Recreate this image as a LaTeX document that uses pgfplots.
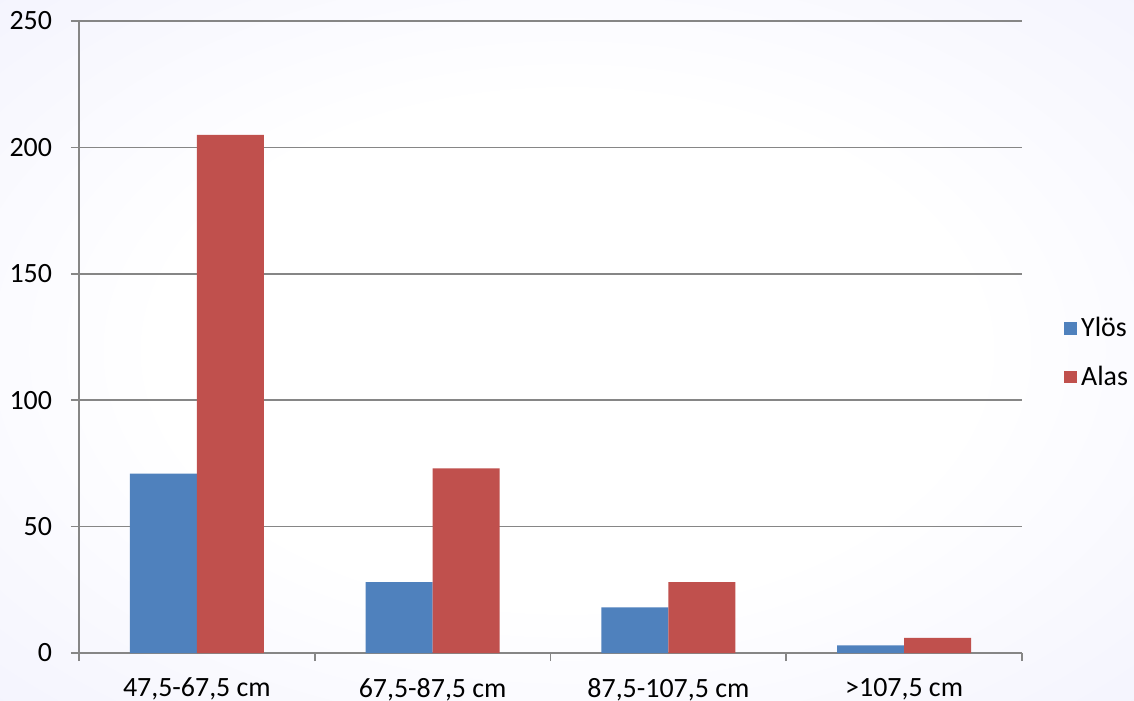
\documentclass[border=0pt]{standalone}
\usepackage{fontspec}
\setmainfont{Carlito}
\usepackage{pgfplots}
\pgfplotsset{compat=1.18}
\definecolor{serA}{RGB}{79,129,189}
\definecolor{serB}{RGB}{192,80,77}
\definecolor{gridc}{RGB}{134,134,134}
\definecolor{lavA}{RGB}{244,244,254}
\definecolor{lavB}{RGB}{226,226,252}
\pgfdeclareradialshading{bgshade}{\pgfpoint{0bp}{0bp}}{color(0bp)=(white); color(18bp)=(white); color(36bp)=(lavA); color(52bp)=(lavB); color(75bp)=(lavB)}
\begin{document}
\begin{tikzpicture}
\useasboundingbox (-39.5bp,-24bp) rectangle (527.5bp,326.5bp);
\shade[shading=bgshade] (-39.5bp,-24bp) rectangle (527.5bp,326.5bp);
\begin{axis}[
  scale only axis, width=471.5bp, height=316bp,
  ybar=0pt, bar width=33.5bp,
  xmin=-0.5, xmax=3.5, ymin=0, ymax=250,
  xtick={-0.5,0.5,1.5,2.5,3.5}, xticklabels={},
  extra x ticks={0,1,2,3},
  extra x tick labels={{47,5-67,5 cm},{67,5-87,5 cm},{87,5-107,5 cm},{>107,5 cm}},
  extra x tick style={major tick length=0pt},
  xticklabel style={yshift=-9bp},
  yticklabel style={xshift=-6bp},
  ytick={0,50,...,250},
  axis x line*=bottom, axis y line*=left,
  axis line style={gridc, line width=0.8bp},
  tick style={gridc, line width=0.8bp},
  major tick length=4bp,
  tick align=outside,
  ymajorgrids, grid style={gridc, line width=0.8bp},
  ticklabel style={font=\fontsize{14}{16}\selectfont, text=black},
  /pgf/number format/assume math mode=true,
  legend style={draw=none, fill=none, at={(1,0.475)}, anchor=west, xshift=18bp,
    font=\fontsize{14}{16}\selectfont, row sep=9bp},
  legend cell align=left,
  legend image code/.code={\fill[#1] (0bp,-3.2bp) rectangle (6.4bp,3.2bp);},
]
\addplot[fill=serA, draw=none] coordinates {(0,71) (1,28) (2,18) (3,3)};
\addlegendentry{Ylös}
\addplot[fill=serB, draw=none] coordinates {(0,205) (1,73) (2,28) (3,6)};
\addlegendentry{Alas}
\end{axis}
\end{tikzpicture}
\end{document}
